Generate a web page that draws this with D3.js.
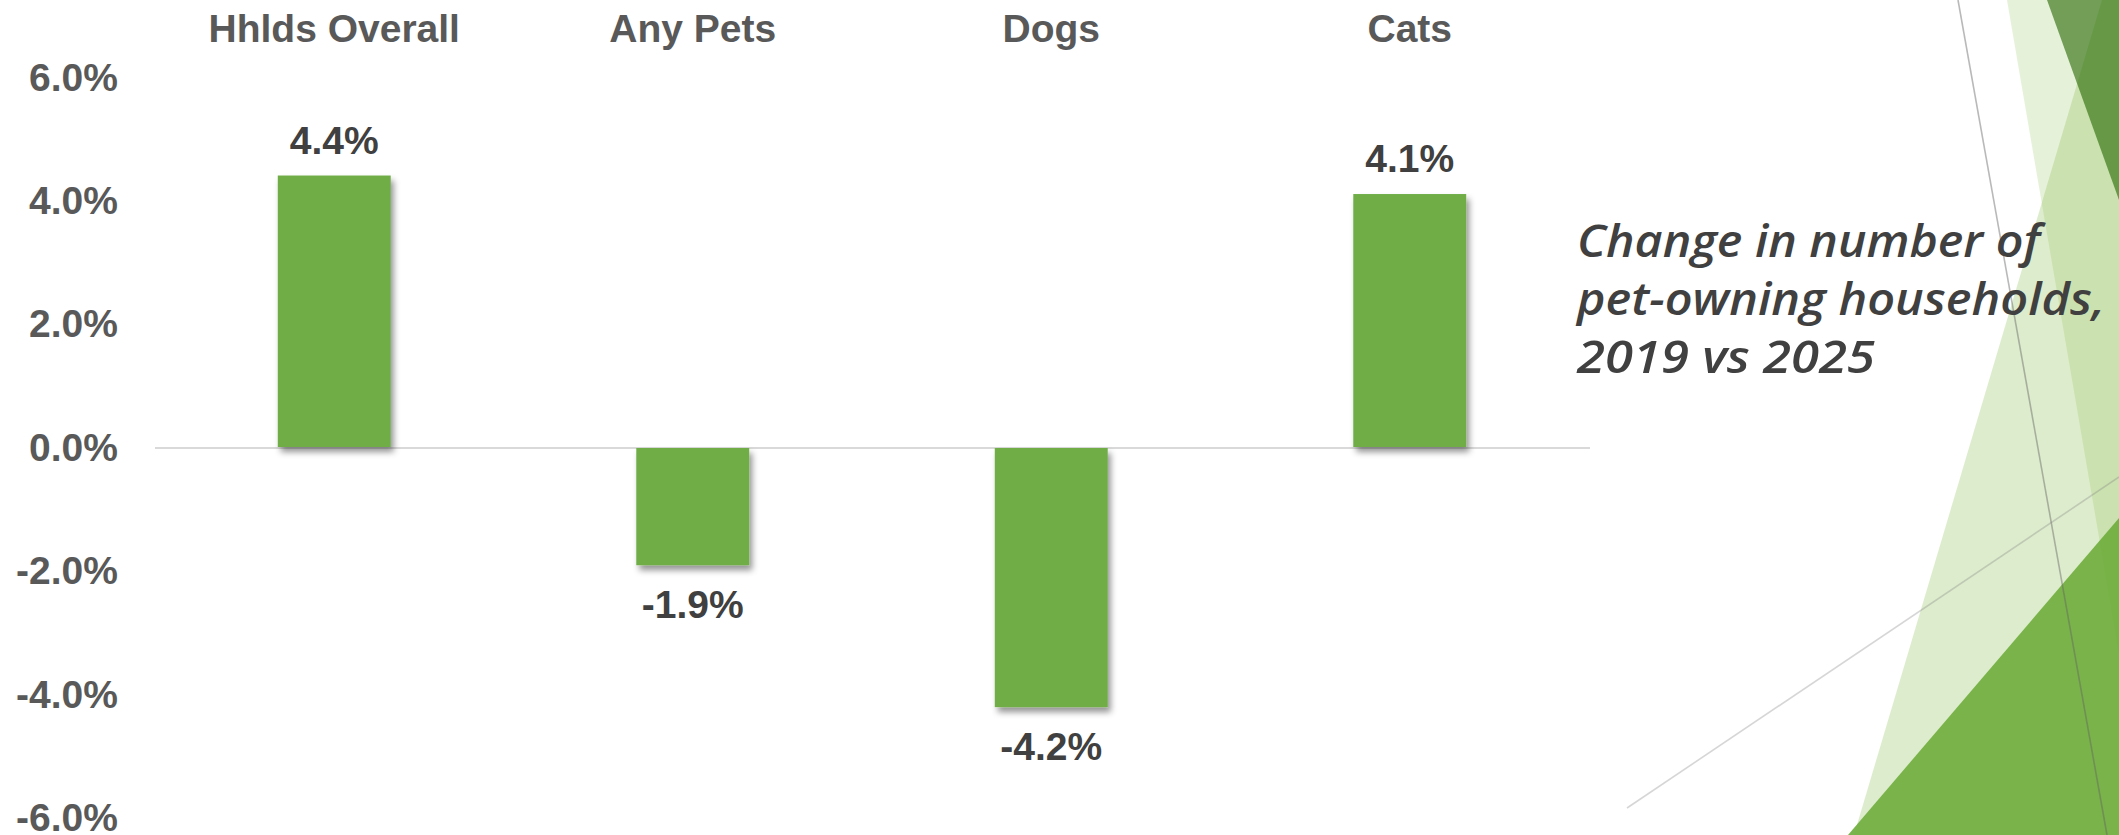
<!DOCTYPE html>
<html>
<head>
<meta charset="utf-8">
<script src="https://cdn.jsdelivr.net/npm/d3@7"></script>
<style>
  html, body { margin: 0; padding: 0; background: #ffffff; }
  svg { display: block; }
</style>
</head>
<body>
<svg id="chart" width="2119" height="835"></svg>
<script>
// Percent change in number of pet-owning households, 2019 vs 2025
const categories = ["Hhlds Overall", "Any Pets", "Dogs", "Cats"];
const changePct = [4.4, -1.9, -4.2, 4.1];
const yTicks = [-6, -4, -2, 0, 2, 4, 6];
const titleLines = ["Change in number of", "pet-owning households,", "2019 vs 2025"];

const W = 2119, H = 835;
const svg = d3.select("#chart");

// ---- slide backdrop: translucent facets and hairlines on the right ----
const deco = svg.append("g").attr("class", "facets");
const facets = [
  { pts: [[2007, 0], [2119, 0], [2119, 835], [2150, 835]], fill: "rgb(128,186,66)", op: 0.2 },
  { pts: [[2102, 0], [2119, 0], [2119, 835], [1854, 835]], fill: "rgb(128,186,66)", op: 0.27 },
  { pts: [[2047, 0], [2119, 0], [2119, 200]], fill: "rgb(37,104,0)", op: 0.6 },
  { pts: [[2119, 518], [2119, 835], [1848, 835]], fill: "rgb(112,174,62)", op: 0.92 }
];
deco.selectAll("polygon").data(facets).join("polygon")
  .attr("points", d => d.pts.map(p => p.join(",")).join(" "))
  .attr("fill", d => d.fill)
  .attr("fill-opacity", d => d.op);
const hairlines = [
  { a: [1958, 0], b: [2107, 835], c: "rgba(100,100,100,0.45)" },
  { a: [1627, 808], b: [2119, 477], c: "rgba(128,128,128,0.32)" }
];
deco.selectAll("line").data(hairlines).join("line")
  .attr("x1", d => d.a[0]).attr("y1", d => d.a[1])
  .attr("x2", d => d.b[0]).attr("y2", d => d.b[1])
  .attr("stroke", d => d.c).attr("stroke-width", 1.6);

// ---- chart ----
const plot = { left: 155, right: 1589, top: 76.8, bottom: 817.2 };
const pad = 0.685;
const x = d3.scaleBand().domain(categories)
  .range([plot.left, plot.right]).paddingInner(pad).paddingOuter(pad / 2);
const y = d3.scaleLinear().domain([-6, 6]).range([plot.bottom, plot.top]);

const defs = svg.append("defs");
const shadow = defs.append("filter").attr("id", "barShadow")
  .attr("x", "-20%").attr("y", "-20%").attr("width", "140%").attr("height", "140%");
shadow.append("feDropShadow")
  .attr("dx", 3).attr("dy", 5).attr("stdDeviation", 3)
  .attr("flood-color", "#000").attr("flood-opacity", 0.42);

const FONT = "'Liberation Sans', Arial, sans-serif";

// y axis: percent labels only
const yAxis = svg.append("g")
  .attr("transform", "translate(118,0)")
  .call(d3.axisLeft(y).tickValues(yTicks).tickSize(0).tickPadding(0)
    .tickFormat(d => d.toFixed(1) + "%"));
yAxis.select(".domain").remove();
yAxis.selectAll("text")
  .attr("dy", "0.34em")
  .attr("font-family", FONT).attr("font-weight", "bold")
  .attr("font-size", 39).attr("fill", "#595959");

// category labels along the top
const xAxis = svg.append("g")
  .attr("transform", "translate(0,42)")
  .call(d3.axisTop(x).tickSize(0).tickPadding(0));
xAxis.select(".domain").remove();
xAxis.selectAll("text")
  .attr("dy", "0em")
  .attr("font-family", FONT).attr("font-weight", "bold")
  .attr("font-size", 39).attr("fill", "#595959");

// zero baseline
svg.append("line")
  .attr("x1", plot.left).attr("x2", plot.right + 1)
  .attr("y1", y(0) + 1).attr("y2", y(0) + 1)
  .attr("stroke", "#d9d9d9").attr("stroke-width", 2);

const data = categories.map((c, i) => ({ c, v: changePct[i] }));

svg.append("g").selectAll("rect").data(data).join("rect")
  .attr("x", d => x(d.c))
  .attr("width", x.bandwidth())
  .attr("y", d => d.v >= 0 ? y(d.v) : y(0) + 1)
  .attr("height", d => Math.abs(y(d.v) - y(0)))
  .attr("fill", "#70ad47")
  .attr("filter", "url(#barShadow)");

svg.append("g").selectAll("text").data(data).join("text")
  .attr("x", d => x(d.c) + x.bandwidth() / 2)
  .attr("y", d => d.v >= 0 ? y(d.v) - 22 : y(d.v) + 54)
  .attr("text-anchor", "middle")
  .attr("font-family", FONT).attr("font-weight", "bold")
  .attr("font-size", 39).attr("fill", "#404040")
  .text(d => d.v.toFixed(1) + "%");

// ---- caption ----
const lineWidths = [463, 528, 298];
svg.append("g").selectAll("text").data(titleLines).join("text")
  .attr("x", 1577)
  .attr("y", (d, i) => 257 + i * 58)
  .attr("font-family", "'Open Sans', 'Noto Sans', sans-serif")
  .attr("font-style", "italic").attr("font-weight", 600)
  .attr("font-size", 46).attr("fill", "#404040")
  .attr("textLength", (d, i) => lineWidths[i])
  .attr("lengthAdjust", "spacingAndGlyphs")
  .text(d => d);
</script>
</body>
</html>
